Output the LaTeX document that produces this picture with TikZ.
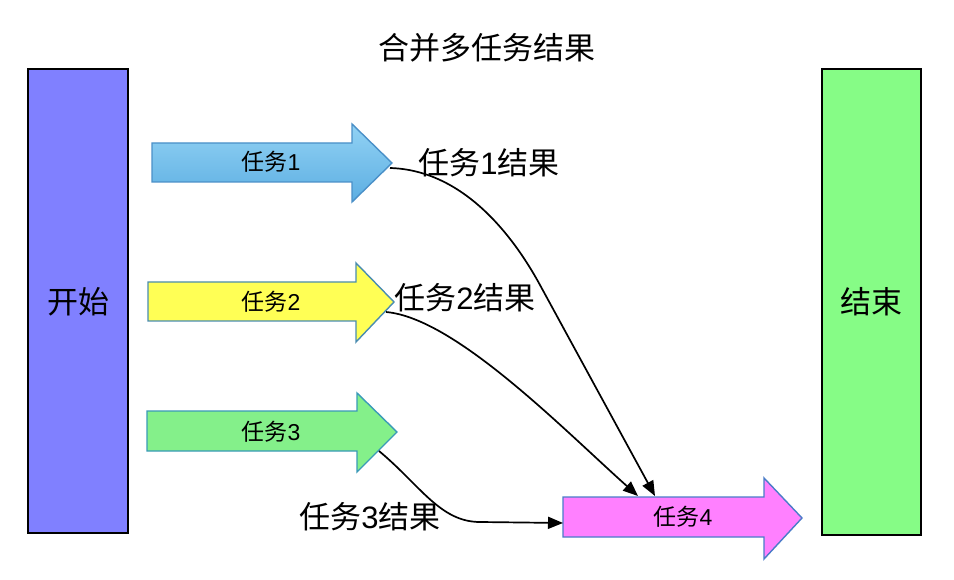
\documentclass[tikz,border=0pt]{standalone}
\usepackage{fontspec}
\setmainfont{Noto Sans CJK SC}
\newfontfamily\latinsans{Liberation Sans}
\newcommand{\dg}[1]{{\latinsans #1}}
\usetikzlibrary{arrows.meta}
\definecolor{startfill}{HTML}{8080FF}
\definecolor{endfill}{HTML}{86FC86}
\definecolor{aonetop}{HTML}{92D2F4}
\definecolor{aonebot}{HTML}{5CAEE2}
\definecolor{aoneline}{HTML}{4A90C8}
\definecolor{atwofill}{HTML}{FFFF55}
\definecolor{atwoline}{HTML}{4A8CB0}
\definecolor{athreefill}{HTML}{84F08A}
\definecolor{athreeline}{HTML}{3A9AB8}
\definecolor{afourfill}{HTML}{FF80FF}
\definecolor{afourline}{HTML}{4A7CC8}
\tikzset{
  bigbox/.style={draw=black, line width=1.6pt},
  fatarrow/.style={line width=1.4pt, line join=miter},
  conn/.style={draw=black, line width=1.7pt, -{Triangle[length=15pt,width=12pt]}},
  boxtext/.style={font=\fontsize{31}{36}\selectfont, text=black},
  inlabel/.style={font=\fontsize{23}{26}\selectfont, text=black},
  reslabel/.style={font=\fontsize{31}{34}\selectfont, text=black},
}
\begin{document}
\begin{tikzpicture}[x=1pt,y=-1pt]
\useasboundingbox[fill=white] (0,0) rectangle (954,580);

% title
\node[font=\fontsize{31}{36}\selectfont] (title) at (487,48) {合并多任务结果};

% start / end boxes
\node[bigbox, fill=startfill, minimum width=100pt, minimum height=464pt, inner sep=0pt] (start) at (78,301) {};
\node[boxtext] (starttext) at (78,302) {开始};
\node[bigbox, fill=endfill, minimum width=99pt, minimum height=466pt, inner sep=0pt] (end) at (871.5,302) {};
\node[boxtext] (endtext) at (871,302) {结束};

% fat arrows
\path[fatarrow, draw=aoneline, top color=aonetop, bottom color=aonebot]
  (152,143) -- (352,143) -- (352,124) -- (392,163) -- (352,202) -- (352,182) -- (152,182) -- cycle;
\coordinate (t1) at (390,168);
\node[inlabel] (l1) at (271,162) {任务\dg{1}};

\path[fatarrow, draw=atwoline, fill=atwofill]
  (148,282) -- (356,282) -- (356,263) -- (394,302) -- (356,342) -- (356,321) -- (148,321) -- cycle;
\coordinate (t2) at (386,312);
\node[inlabel] (l2) at (271,302) {任务\dg{2}};

\path[fatarrow, draw=athreeline, fill=athreefill]
  (147,411) -- (357,411) -- (357,393) -- (397,432) -- (357,472) -- (357,451) -- (147,451) -- cycle;
\coordinate (t3) at (379,451);
\node[inlabel] (l3) at (271,432) {任务\dg{3}};

\path[fatarrow, draw=afourline, fill=afourfill]
  (563,497) -- (764,497) -- (764,478) -- (802,518) -- (764,559) -- (764,537) -- (563,537) -- cycle;
\coordinate (in4) at (563,523);
\coordinate (top4a) at (638,496);
\coordinate (top4b) at (655,496);
\node[inlabel] (l4) at (683,517) {任务\dg{4}};

% result labels
\node[reslabel] (r1) at (489,163) {任务\dg{1}结果};
\node[reslabel] (r2) at (465,298) {任务\dg{2}结果};
\node[reslabel] (r3) at (370,517) {任务\dg{3}结果};

% connectors
\draw[conn] (t1) .. controls (460,170) and (510,230) .. (540,285) -- (top4b);
\draw[conn] (t2) .. controls (455,318) and (563,429) .. (top4a);
\draw[conn] (t3) .. controls (420,485) and (440,522) .. (480,522) -- (in4);
\end{tikzpicture}
\end{document}
